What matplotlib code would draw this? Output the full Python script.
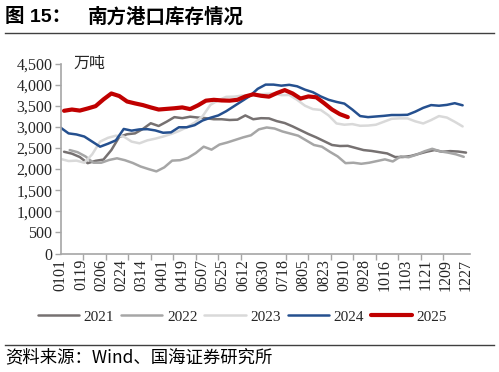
import numpy as np
import pandas as pd
import matplotlib
matplotlib.use('Agg')
import matplotlib.pyplot as plt
from matplotlib.ticker import FuncFormatter, FixedLocator

CJK = ['Noto Sans CJK SC', 'DejaVu Sans']
SERIF = ['Liberation Serif', 'DejaVu Serif']

# weekly inventory, 万吨
start_2021 = '0104'
v2021 = [2410, 2365, 2285, 2140, 2195, 2225, 2450, 2760, 2825, 2845, 2950, 3085, 3020,
         3120, 3230, 3205, 3240, 3220, 3205, 3180, 3180, 3162, 3170, 3270, 3180, 3205,
         3200, 3135, 3090, 3010, 2920, 2830, 2750, 2660, 2570, 2546, 2550, 2500, 2450,
         2430, 2400, 2370, 2285, 2285, 2310, 2360, 2410, 2450, 2410, 2425, 2415, 2390]

start_2022 = '0109'
v2022 = [2450, 2400, 2300, 2150, 2150, 2215, 2255, 2210, 2145, 2060, 2000, 1945, 2040,
         2200, 2210, 2265, 2380, 2530, 2460, 2580, 2630, 2690, 2750, 2800, 2940, 2985,
         2960, 2890, 2840, 2790, 2680, 2570, 2530, 2410, 2300, 2140, 2150, 2125, 2150,
         2190, 2230, 2180, 2300, 2280, 2340, 2420, 2480, 2420, 2390, 2350, 2290]

start_2023 = '0101'
v2023 = [2240, 2190, 2200, 2150, 2350, 2650, 2740, 2790, 2770, 2650, 2610, 2680, 2720,
         2770, 2830, 2900, 2990, 3100, 3250, 3520, 3630, 3710, 3715, 3740, 3740, 3760,
         3780, 3790, 3750, 3755, 3640, 3500, 3420, 3400, 3270, 3080, 3050, 3065, 3025,
         3030, 3050, 3120, 3190, 3200, 3200, 3130, 3080, 3160, 3255, 3220, 3120, 3010]

start_2024 = '0101'
v2024 = [2980, 2845, 2820, 2770, 2650, 2530, 2600, 2680, 2950, 2910, 2940, 2945, 2915,
         2860, 2870, 2990, 2990, 3040, 3150, 3215, 3270, 3370, 3490, 3610, 3730, 3900,
         4000, 4000, 3975, 3995, 3960, 3880, 3820, 3720, 3640, 3590, 3550, 3410, 3255,
         3230, 3245, 3260, 3280, 3280, 3285, 3360, 3450, 3515, 3500, 3520, 3560, 3510]

start_2025 = '0104'
v2025 = [3380, 3410, 3385, 3435, 3490, 3650, 3790, 3730, 3600, 3555, 3515, 3460, 3410,
         3425, 3440, 3460, 3420, 3510, 3620, 3640, 3625, 3620, 3640, 3720, 3770, 3735,
         3715, 3800, 3870, 3790, 3670, 3720, 3700, 3560, 3410, 3300, 3230]

years = ['2021', '2022', '2023', '2024', '2025']
starts = [start_2021, start_2022, start_2023, start_2024, start_2025]
values = [v2021, v2022, v2023, v2024, v2025]

xlabels = ['0101', '0119', '0206', '0224', '0314', '0401', '0419', '0507', '0525',
           '0612', '0630', '0718', '0805', '0823', '0910', '0928', '1016', '1103',
           '1121', '1209', '1227']

COLORS = {'2021': '#767171', '2022': '#A6A6A6', '2023': '#D9D9D9',
          '2024': '#25508F', '2025': '#C00000'}
WIDTHS = {'2021': 1.8, '2022': 1.8, '2023': 1.8, '2024': 1.8, '2025': 3.0}


def day_of(mmdd):
    # position on a common (non-leap) calendar, 0 = Jan 1
    return pd.Timestamp('2023-' + mmdd[:2] + '-' + mmdd[2:]).dayofyear - 1


fig = plt.figure(figsize=(4.99, 3.72), dpi=100)
ax = fig.add_axes([0.1216, 0.3185, 0.8204, 0.5108])

for yr, st, vals in zip(years, starts, values):
    x = day_of(st) + 7 * np.arange(len(vals))
    ax.plot(x, vals, color=COLORS[yr], lw=WIDTHS[yr], label=yr,
            solid_joinstyle='round', solid_capstyle='round')

ax.set_xlim(0, 363.6)
ax.set_ylim(0, 4500)
ax.set_yticks(np.arange(0, 4501, 500))
ax.yaxis.set_major_formatter(FuncFormatter(lambda v, p: f'{int(v):,}'))

ax.set_xticks([day_of(l) for l in xlabels])
ax.set_xticklabels(xlabels, rotation=90)
ax.xaxis.set_minor_locator(FixedLocator(np.arange(0, 361, 20)))
ax.tick_params(axis='x', which='major', length=0, pad=4)
ax.tick_params(axis='x', which='minor', length=4, width=1.0, color='#A6A6A6', direction='out')
ax.tick_params(axis='y', length=4, width=1.0, color='#A6A6A6', pad=2)
for lab in ax.get_xticklabels() + ax.get_yticklabels():
    lab.set_family(SERIF); lab.set_fontsize(11.5); lab.set_color('#262626')

for s in ['top', 'right']:
    ax.spines[s].set_visible(False)
for s in ['left', 'bottom']:
    ax.spines[s].set_color('#A6A6A6'); ax.spines[s].set_linewidth(1.2)

ax.text(0.03, 1.0, '万吨', transform=ax.transAxes, family=CJK, fontsize=11.5,
        va='center', ha='left', color='#262626')

leg = fig.legend(loc='center', bbox_to_anchor=(0.486, 0.148), ncol=5, frameon=False,
                 handlelength=2.7, handletextpad=0.3, columnspacing=0.45,
                 prop={'family': SERIF, 'size': 11})
for t in leg.get_texts():
    t.set_color('#262626')

fig.text(0.01, 0.955, '图 15：', family=['Liberation Sans', 'Noto Sans CJK SC'],
         fontsize=14, fontweight='bold', va='center', ha='left')
fig.text(0.176, 0.955, '南方港口库存情况', family=CJK, fontsize=14,
         fontweight='bold', va='center', ha='left')
fig.add_artist(plt.Line2D([0.01, 0.99], [0.911, 0.911], color='#404040', lw=1.0))
fig.add_artist(plt.Line2D([0.01, 0.99], [0.073, 0.073], color='#404040', lw=1.0))
fig.text(0.01, 0.04, '资料来源：Wind、国海证券研究所', family=CJK, fontsize=12.5,
         va='center', ha='left')

fig.savefig('out.png', dpi=100)
